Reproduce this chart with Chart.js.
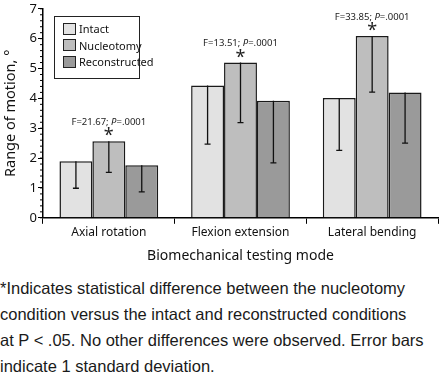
<!DOCTYPE html>
<html lang="en">
<head>
    <meta charset="UTF-8">
    <title>Range of motion</title>
    <script src="https://cdn.jsdelivr.net/npm/chart.js"></script>
    <style>
        body {
            margin: 0;
            padding: 0;
            background-color: #fff;
            width: 440px;
            height: 374px;
            overflow: hidden;
            position: relative;
        }
        .chart-box {
            position: absolute;
            left: 0;
            top: 0;
            width: 440px;
            height: 264px;
        }
        .legend {
            position: absolute;
            left: 54px;
            top: 16px;
            width: 84px;
            height: 61px;
            border: 1.5px solid #222;
            background: #fff;
            font-family: 'Noto Sans', sans-serif;
            font-size: 11px;
            color: #111;
        }
        .legend-item {
            position: absolute;
            left: 8px;
            display: flex;
            align-items: center;
        }
        .legend-item span {
            display: inline-block;
            width: 11px;
            height: 10px;
            border: 1px solid #222;
            margin-right: 3px;
        }
        .note {
            position: absolute;
            left: 0;
            top: 275px;
            width: 440px;
            font-family: 'Liberation Sans', Arial, sans-serif;
            font-size: 16.5px;
            line-height: 26px;
            color: #1a1a1a;
            margin: 0;
            white-space: nowrap;
        }
    </style>
</head>
<body>
    <div class="chart-box"><canvas id="romChart"></canvas></div>
    <div class="legend" id="legend"></div>
    <p class="note">*Indicates statistical difference between the nucleotomy<br>condition versus the intact and reconstructed conditions<br>at P &lt; .05. No other differences were observed. Error bars<br>indicate 1 standard deviation.</p>

    <script>
        // data
        const modes = ['Axial rotation', 'Flexion extension', 'Lateral bending'];
        const groups = ['Intact', 'Nucleotomy', 'Reconstructed'];
        const intact = [1.89, 4.43, 4.01];
        const nucleotomy = [2.56, 5.2, 6.09];
        const reconstructed = [1.76, 3.92, 4.2];
        const intactSD = [0.9, 1.96, 1.75];
        const nucleotomySD = [1.04, 2.01, 1.88];
        const reconstructedSD = [0.89, 2.08, 1.7];
        const fStats = ['21.67', '13.51', '33.85'];
        const pValues = ['.0001', '.0001', '.0001'];
        const yTicks = [0, 1, 2, 3, 4, 5, 6, 7];

        const fills = ['#e2e2e2', '#bebebe', '#9a9a9a'];
        const chartFont = "'Noto Sans', sans-serif";

        // legend
        const legend = document.getElementById('legend');
        groups.forEach((g, i) => {
            const item = document.createElement('div');
            item.className = 'legend-item';
            item.style.top = (4 + i * 16.5) + 'px';
            item.innerHTML = '<span style="background:' + fills[i] + '"></span>' + g;
            legend.appendChild(item);
        });

        const errorBars = {
            id: 'errorBars',
            afterDatasetsDraw(chart) {
                const ctx = chart.ctx;
                const y = chart.scales.y;
                ctx.save();
                ctx.strokeStyle = '#111';
                ctx.lineWidth = 1.3;
                chart.data.datasets.forEach((ds, di) => {
                    chart.getDatasetMeta(di).data.forEach((bar, i) => {
                        const top = y.getPixelForValue(ds.data[i]);
                        const low = y.getPixelForValue(ds.data[i] - ds.sd[i]);
                        ctx.beginPath();
                        ctx.moveTo(bar.x, top);
                        ctx.lineTo(bar.x, low);
                        ctx.moveTo(bar.x - 3, low);
                        ctx.lineTo(bar.x + 3, low);
                        ctx.stroke();
                    });
                });
                // minor ticks on y axis
                ctx.lineWidth = 1;
                ctx.strokeStyle = '#000';
                for (let v = 0; v <= 7.001; v += 0.2) {
                    const py = y.getPixelForValue(v);
                    ctx.beginPath();
                    ctx.moveTo(y.right - 3, py);
                    ctx.lineTo(y.right, py);
                    ctx.stroke();
                }
                // significance labels above nucleotomy bars
                const meta = chart.getDatasetMeta(1);
                meta.data.forEach((bar, i) => {
                    const top = y.getPixelForValue(nucleotomy[i]);
                    const a = 'F=' + fStats[i] + '; ';
                    const b = 'P';
                    const c = '=' + pValues[i];
                    ctx.font = '9.5px ' + chartFont;
                    const wa = ctx.measureText(a).width;
                    const wc = ctx.measureText(c).width;
                    ctx.font = 'italic 9.5px ' + chartFont;
                    const wb = ctx.measureText(b).width;
                    let x = bar.x - (wa + wb + wc) / 2;
                    const ty = top - 19;
                    ctx.fillStyle = '#222';
                    ctx.textBaseline = 'middle';
                    ctx.textAlign = 'left';
                    ctx.font = '9.5px ' + chartFont;
                    ctx.fillText(a, x, ty);
                    ctx.font = 'italic 9.5px ' + chartFont;
                    ctx.fillText(b, x + wa, ty);
                    ctx.font = '9.5px ' + chartFont;
                    ctx.fillText(c, x + wa + wb, ty);
                    ctx.font = '18px ' + chartFont;
                    ctx.textAlign = 'center';
                    ctx.fillText('*', bar.x, top - 5);
                });
                ctx.restore();
            }
        };

        const romChart = new Chart(document.getElementById('romChart'), {
            type: 'bar',
            data: {
                labels: modes,
                datasets: [
                    { label: groups[0], data: intact, sd: intactSD, backgroundColor: fills[0] },
                    { label: groups[1], data: nucleotomy, sd: nucleotomySD, backgroundColor: fills[1] },
                    { label: groups[2], data: reconstructed, sd: reconstructedSD, backgroundColor: fills[2] }
                ]
            },
            options: {
                responsive: true,
                maintainAspectRatio: false,
                animation: false,
                devicePixelRatio: 1,
                layout: { padding: { top: 2, right: 2, left: 0, bottom: 0 } },
                datasets: {
                    bar: {
                        borderColor: '#1a1a1a',
                        borderWidth: 1.5,
                        categoryPercentage: 0.75,
                        barPercentage: 1.0
                    }
                },
                plugins: {
                    legend: { display: false },
                    tooltip: { enabled: false }
                },
                scales: {
                    x: {
                        grid: {
                            display: true,
                            drawOnChartArea: false,
                            offset: true,
                            tickLength: 6,
                            color: '#000'
                        },
                        border: { display: true, color: '#000', width: 1.5 },
                        ticks: {
                            color: '#111',
                            font: { family: chartFont, size: 12 },
                            padding: 2
                        },
                        title: {
                            display: true,
                            text: 'Biomechanical testing mode',
                            color: '#111',
                            font: { family: chartFont, size: 14 },
                            padding: { top: 5, bottom: 0 }
                        }
                    },
                    y: {
                        min: 0,
                        max: 7,
                        afterFit(scale) { scale.width = 43; },
                        afterBuildTicks(scale) { scale.ticks = yTicks.map(v => ({ value: v })); },
                        grid: {
                            display: true,
                            drawOnChartArea: false,
                            tickLength: 5,
                            color: '#000'
                        },
                        border: { display: true, color: '#000', width: 1.5 },
                        ticks: {
                            color: '#111',
                            font: { family: chartFont, size: 13 },
                            padding: 1
                        },
                        title: {
                            display: true,
                            text: 'Range of motion, °',
                            color: '#111',
                            font: { family: chartFont, size: 14.5 },
                            padding: { top: 2, bottom: 0 }
                        }
                    }
                }
            },
            plugins: [errorBars]
        });
    </script>
</body>
</html>
